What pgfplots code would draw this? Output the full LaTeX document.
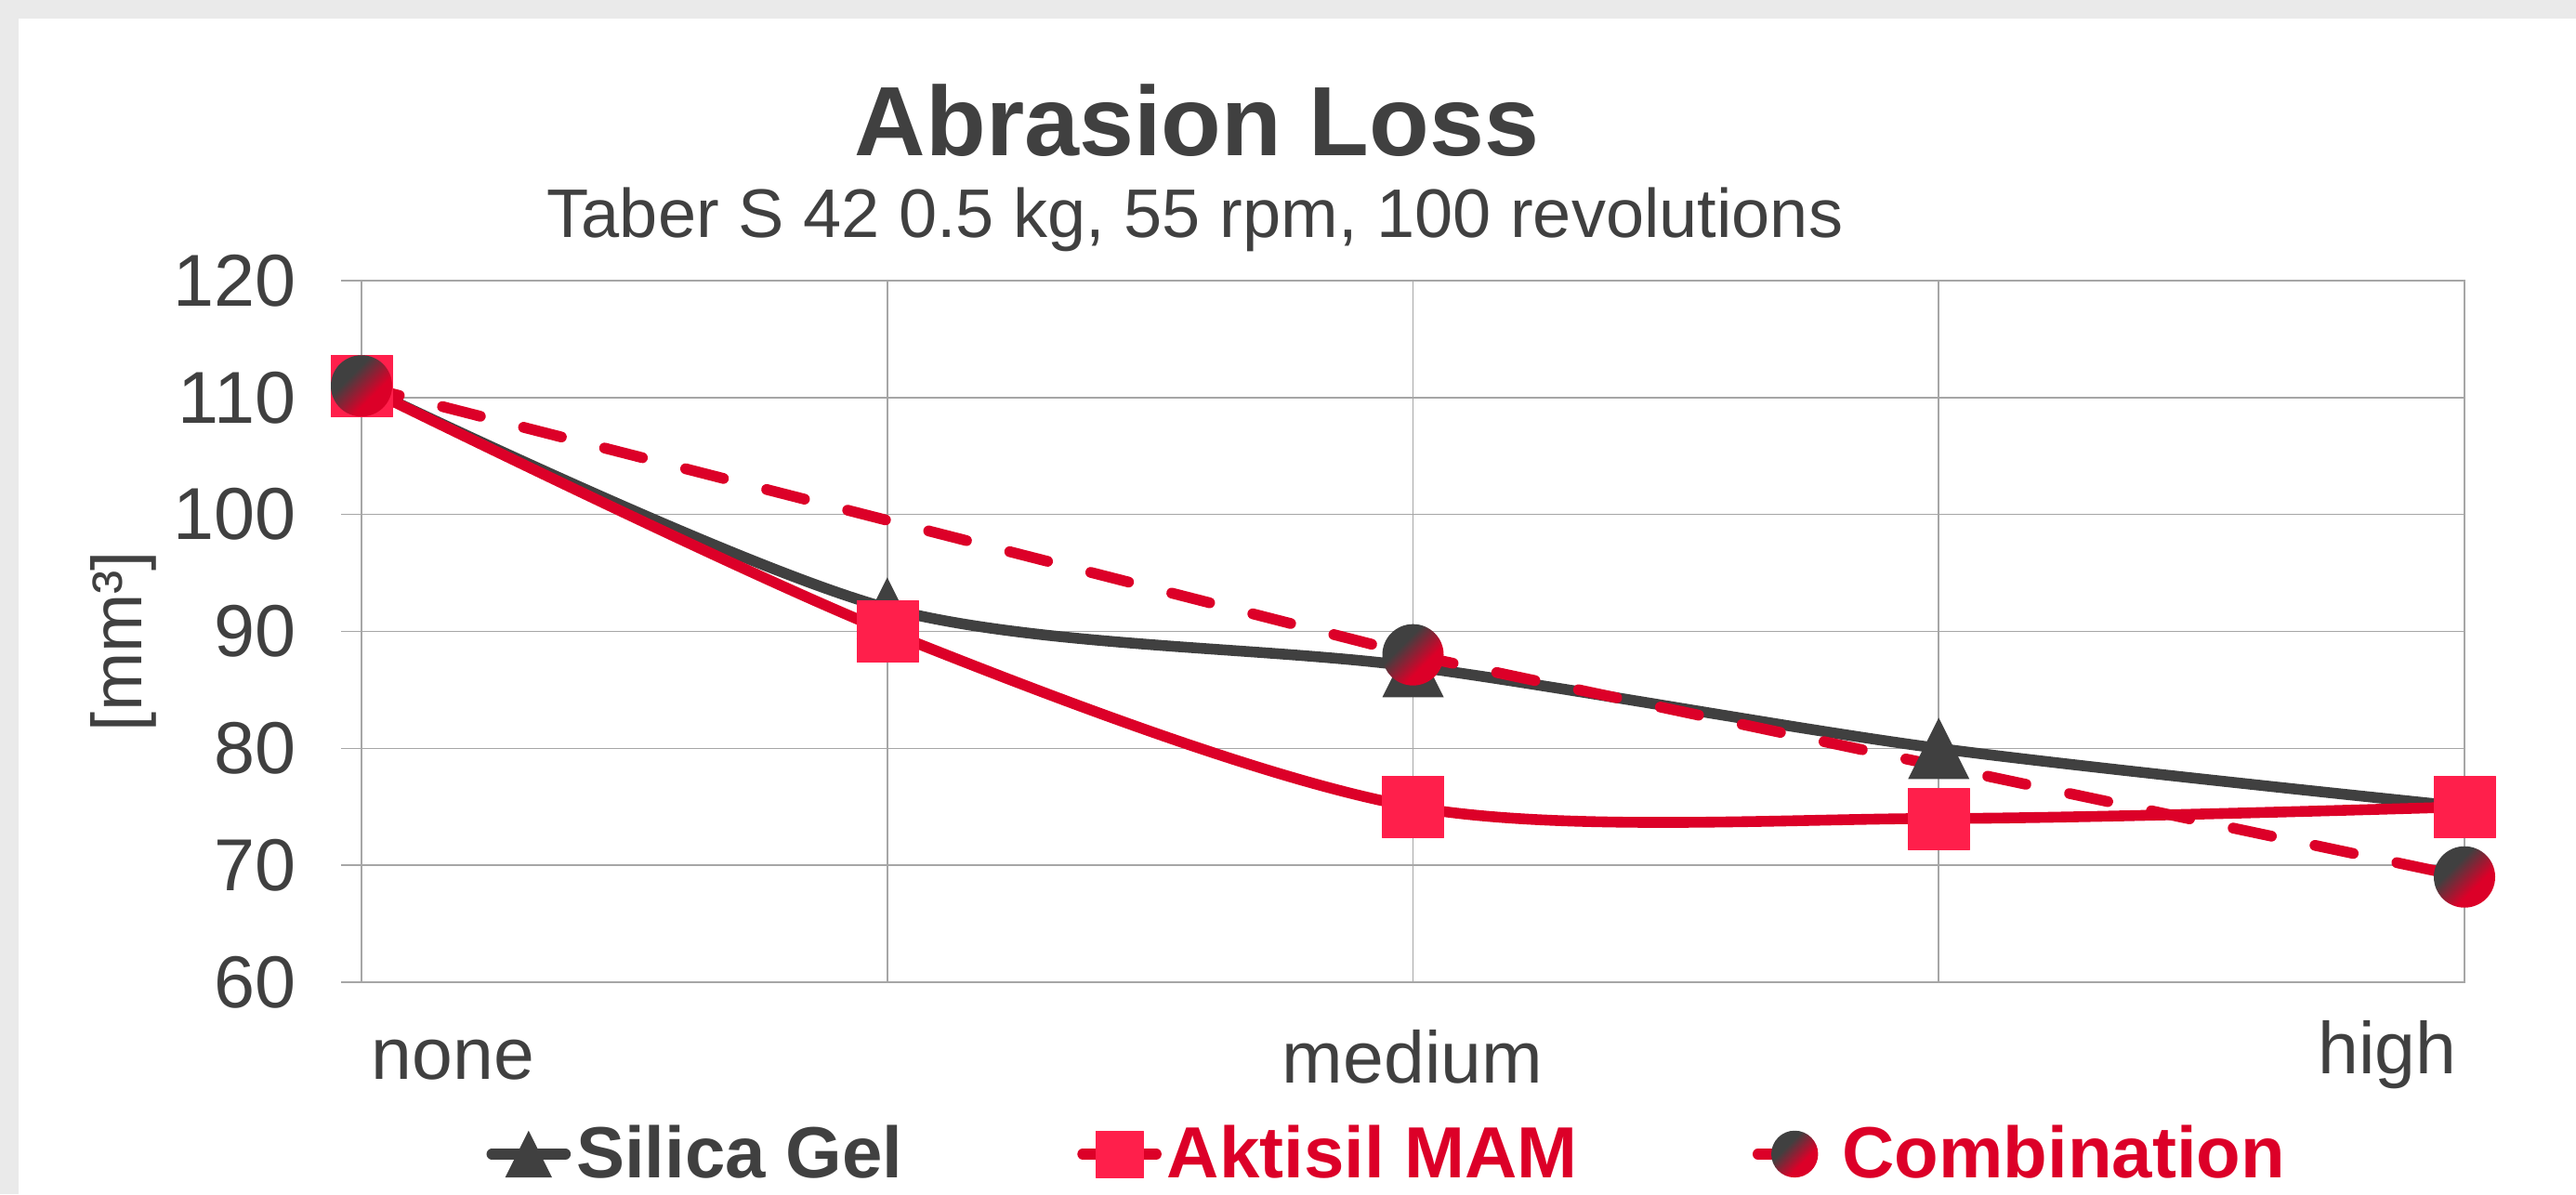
\documentclass[border=0pt]{standalone}
\usepackage{fontspec}
\setmainfont{Liberation Sans}
\usepackage{pgfplots}
\pgfplotsset{compat=1.18}
\definecolor{cdark}{HTML}{404040}
\definecolor{cred}{HTML}{DC0028}
\definecolor{cpink}{HTML}{FF1F4B}
\definecolor{cgrid}{HTML}{A6A6A6}
\definecolor{bggray}{HTML}{EAEAEA}
\pgfdeclarehorizontalshading{combshade}{100bp}{color(0bp)=(cdark); color(38bp)=(cdark); color(62bp)=(cred); color(100bp)=(cred)}
\pgfdeclareplotmark{gradcirc}{%
  \pgfpathcircle{\pgfpointorigin}{\pgfplotmarksize}%
  \pgfshadepath{combshade}{-45}%
  \pgfusepath{discard}%
}
\pgfdeclareplotmark{xtri}{%
  \pgfpathmoveto{\pgfqpoint{0pt}{\pgfplotmarksize}}%
  \pgfpathlineto{\pgfqpoint{\pgfplotmarksize}{-\pgfplotmarksize}}%
  \pgfpathlineto{\pgfqpoint{-\pgfplotmarksize}{-\pgfplotmarksize}}%
  \pgfpathclose\pgfusepathqfill
}
\begin{document}
\begin{tikzpicture}
\fill[bggray] (0,0) rectangle (693pt,321.25pt);
\fill[white] (5pt,0) rectangle (693pt,316.25pt);
\begin{axis}[
  at={(97.25pt,57pt)}, anchor=south west,
  scale only axis, width=565.75pt, height=188.75pt,
  xmin=0, xmax=4, ymin=60, ymax=120,
  xtick={0,1,2,3,4}, xticklabels={},
  ytick={60,70,...,120},
  ytick pos=left,
  grid=major,
  major grid style={cgrid, line width=0.4pt},
  axis line style={cgrid, line width=0.4pt},
  tick style={cgrid, line width=0.4pt},
  xtick style={draw=none},
  ytick align=outside, major tick length=5.5pt,
  /pgf/number format/assume math mode=true,
  yticklabel style={font=\fontsize{19.8}{22}\selectfont, text=cdark, anchor=east, inner sep=0pt, xshift=-12pt},
  clip=false,
  every axis plot/.append style={line width=2.9pt, line cap=round, line join=round},
  legend image code/.code={\draw[mark repeat=2,mark phase=2,#1,mark size=6.3pt] plot coordinates {(0pt,0pt) (9.875pt,0pt) (19.75pt,0pt)};},
  legend columns=3,
  legend style={draw=none, fill=none, at={(0.488,-0.245)}, anchor=center,
    font=\bfseries\fontsize{19.5}{22}\selectfont,
    nodes={inner sep=1pt},
    /tikz/every even column/.append style={column sep=46pt},
    /tikz/every odd column/.append style={column sep=0.5pt}},
]
\addplot[cdark, smooth, mark=xtri, mark size=8.25pt, mark options={fill=cdark}]
  coordinates {(0,111) (1,92) (2,87) (3,80) (4,75)};
\addlegendentry{\textcolor{cdark}{Silica Gel}}
\addplot[cred, smooth, mark=square*, mark size=8.25pt, mark options={solid, fill=cpink, draw=cpink, line width=0.1pt}]
  coordinates {(0,111) (1,90) (2,75) (3,74) (4,75)};
\addlegendentry{\textcolor{cred}{Aktisil MAM}}
\addplot[cred, dash pattern=on 10.5pt off 12pt, mark=gradcirc, mark size=8.25pt, mark options={solid}]
  coordinates {(0,111) (2,88) (4,69)};
\addlegendentry{\textcolor{cred}{Combination}}
\end{axis}
\node[anchor=base, text=cdark, font=\bfseries\fontsize{26.5}{30}\selectfont, inner sep=0pt] at (322pt,279.25pt) {Abrasion Loss};
\node[anchor=base, text=cdark, font=\fontsize{18.5}{22}\selectfont, inner sep=0pt] at (321.5pt,257.25pt) {Taber S 42 0.5 kg, 55 rpm, 100 revolutions};
\node[rotate=90, text=cdark, font=\fontsize{19}{22}\selectfont, inner sep=0pt] at (33.25pt,148.75pt) {[mm³]};
\node[anchor=base west, text=cdark, font=\fontsize{19.7}{22}\selectfont, inner sep=0pt] at (99.75pt,30.75pt) {none};
\node[anchor=base, text=cdark, font=\fontsize{19.7}{22}\selectfont, inner sep=0pt] at (380pt,30pt) {medium};
\node[anchor=base east, text=cdark, font=\fontsize{19.7}{22}\selectfont, inner sep=0pt] at (661pt,32.5pt) {high};
\pgfresetboundingbox
\useasboundingbox (0,0) rectangle (693pt,321.25pt);
\end{tikzpicture}
\end{document}
